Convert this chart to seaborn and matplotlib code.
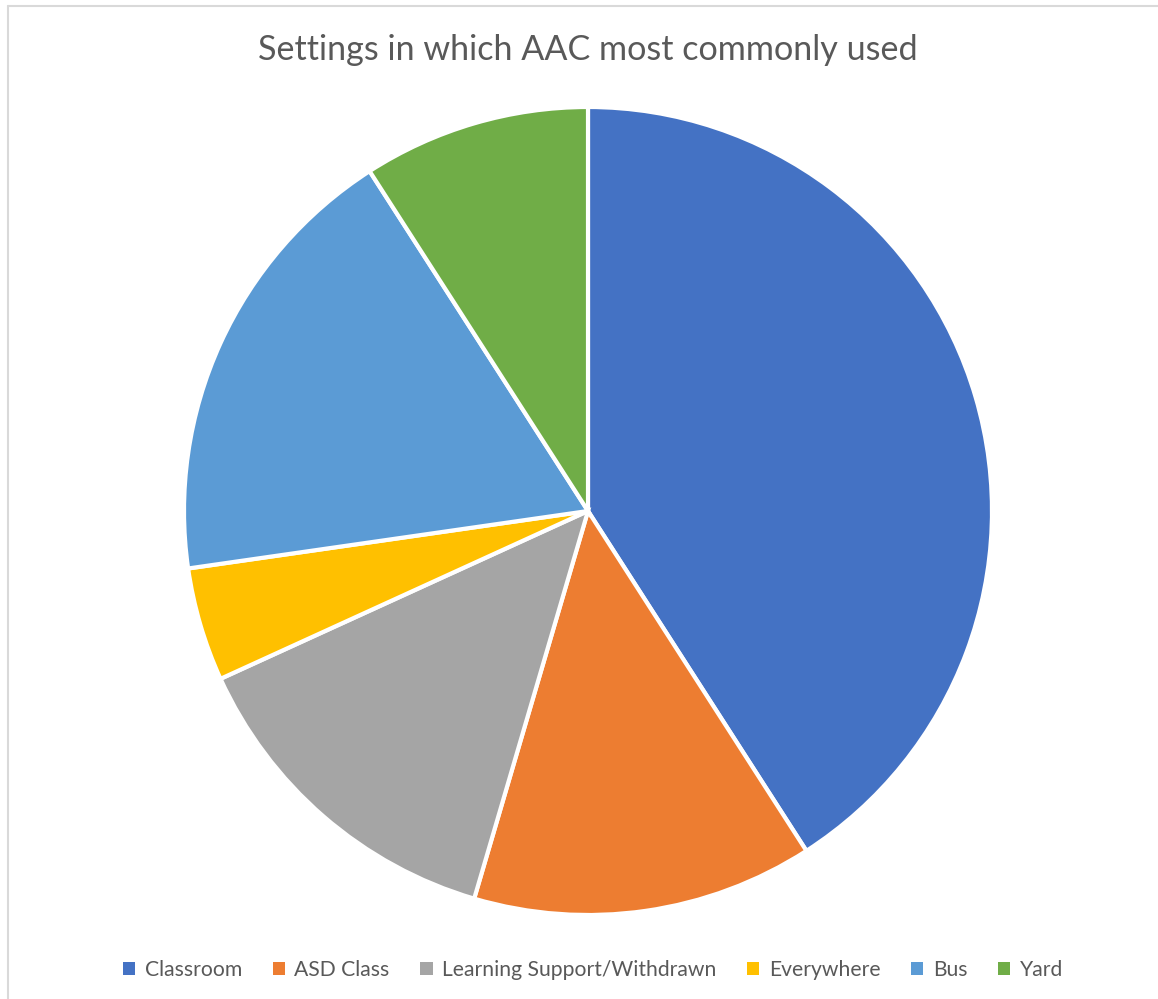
import matplotlib
matplotlib.use("Agg")
import matplotlib.pyplot as plt
import seaborn as sns
from matplotlib.lines import Line2D
from matplotlib.patches import Patch

settings = ["Classroom", "ASD Class", "Learning Support/Withdrawn", "Everywhere", "Bus", "Yard"]
counts = [9, 3, 3, 1, 4, 2]
colours = ["#4472C4", "#ED7D31", "#A5A5A5", "#FFC000", "#5B9BD5", "#70AD47"]
title = "Settings in which AAC most commonly used"

sns.set_theme(style="white")
plt.rcParams["font.family"] = ["Lato", "DejaVu Sans"]
palette = sns.color_palette(colours)

W, H = 1158, 999
fig = plt.figure(figsize=(W / 100, H / 100), dpi=100)

# pie centre ~ (588, 511) px, radius ~404 px
cx, cy, r = 588, 511, 404
ax = fig.add_axes([(cx - r) / W, (H - cy - r) / H, 2 * r / W, 2 * r / H])
wedges, _ = ax.pie(
    counts,
    colors=palette,
    startangle=90,
    counterclock=False,
    radius=1,
    wedgeprops=dict(edgecolor="white", linewidth=3),
)
for w in wedges:
    w.set_clip_on(False)
ax.set_xlim(-1, 1)
ax.set_ylim(-1, 1)
ax.set_aspect("equal")
ax.axis("off")

fig.text(cx / W, 1 - 50 / H, title, ha="center", va="center",
         fontsize=24.6, color="#595959")

handles = [Patch(facecolor=c, edgecolor="none") for c in palette]
fig.legend(
    handles, settings, loc="center", bbox_to_anchor=(593 / W, 1 - 970 / H),
    ncol=6, frameon=False, fontsize=15.2, labelcolor="#595959",
    handlelength=0.58, handleheight=0.58, handletextpad=0.45, columnspacing=1.45,
)

# light chart-area border (left and top edges visible)
fig.add_artist(Line2D([8 / W, 8 / W], [0, 1 - 6 / H], color="#D9D9D9", lw=1.5))
fig.add_artist(Line2D([8 / W, 1], [1 - 6 / H, 1 - 6 / H], color="#D9D9D9", lw=1.5))

fig.savefig("out.png", dpi=100, facecolor="white")
